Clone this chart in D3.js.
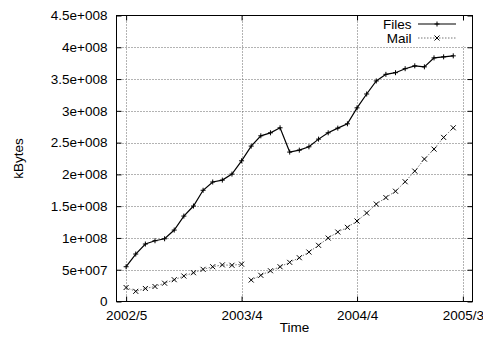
<!DOCTYPE html>
<html>
<head>
<meta charset="utf-8">
<script src="https://cdn.jsdelivr.net/npm/d3@7"></script>
<style>
  html, body { margin: 0; padding: 0; background: #fff; }
  svg { display: block; }
  text { font-family: "Liberation Sans", Arial, Helvetica, sans-serif; font-size: 13.5px; fill: #000; }
</style>
</head>
<body>
<svg id="chart" width="483" height="344"></svg>
<script>
// ---- data (kBytes), one sample per index ----
const files = [5.47e7, 7.47e7, 9.04e7, 9.56e7, 9.87e7, 1.124e8, 1.344e8, 1.502e8, 1.75e8, 1.88e8,
  1.91e8, 2.005e8, 2.214e8, 2.445e8, 2.607e8, 2.654e8, 2.733e8, 2.351e8, 2.382e8, 2.434e8,
  2.555e8, 2.654e8, 2.728e8, 2.796e8, 3.047e8, 3.265e8, 3.47e8, 3.574e8, 3.60e8, 3.663e8,
  3.708e8, 3.692e8, 3.833e8, 3.849e8, 3.865e8];
// Mail: two segments (counter reset after index 12)
const mailPart1Start = 0;
const mailPart1 = [2.2e7, 1.6e7, 2.05e7, 2.36e7, 2.88e7, 3.43e7, 4.01e7, 4.53e7, 5.06e7, 5.47e7,
  5.76e7, 5.7e7, 5.87e7];
const mailPart2Start = 13;
const mailPart2 = [3.38e7, 4.12e7, 4.84e7, 5.47e7, 6.16e7, 6.89e7, 7.78e7, 8.84e7, 9.98e7, 1.093e8,
  1.167e8, 1.266e8, 1.392e8, 1.533e8, 1.635e8, 1.735e8, 1.884e8, 2.052e8, 2.241e8, 2.398e8,
  2.582e8, 2.733e8];
const yTickValues = [0, 5e7, 1e8, 1.5e8, 2e8, 2.5e8, 3e8, 3.5e8, 4e8, 4.5e8];
const yTickLabels = ["0", "5e+007", "1e+008", "1.5e+008", "2e+008", "2.5e+008", "3e+008", "3.5e+008", "4e+008", "4.5e+008"];
const xTickIndex = [0, 12, 24, 35];
const xTickLabels = ["2002/5", "2003/4", "2004/4", "2005/3"];
const seriesNames = ["Files", "Mail"];

// ---- layout ----
const svg = d3.select("#chart");
const L = 116.5, R = 472.5, T = 15.5, B = 301.5;
const x = d3.scaleLinear().domain([-1, 36]).range([L, R]);
const y = d3.scaleLinear().domain([0, 4.5e8]).range([B, T]);
const tickLen = 5;

// grid
const grid = svg.append("g").attr("stroke", "#666").attr("stroke-width", 1).attr("stroke-dasharray", "1,2");
yTickValues.slice(1, -1).forEach(v => {
  const yy = Math.round(y(v)) + 0.5;
  grid.append("line").attr("x1", L).attr("x2", R).attr("y1", yy).attr("y2", yy);
});
xTickIndex.forEach(i => {
  const xx = Math.round(x(i)) + 0.5;
  grid.append("line").attr("x1", xx).attr("x2", xx).attr("y1", T).attr("y2", B);
});

// axes via d3 axis (inward ticks), plus mirrored ticks
const yAxisL = d3.axisLeft(y).tickValues(yTickValues).tickFormat((d, i) => yTickLabels[i]).tickSizeInner(-tickLen).tickSizeOuter(0).tickPadding(9);
const gL = svg.append("g").attr("transform", `translate(${L},0)`).call(yAxisL);
gL.select(".domain").remove();
gL.selectAll("text").attr("font-size", "13.5px").attr("font-family", "Liberation Sans, Arial, sans-serif").attr("fill", "#000");
gL.selectAll("line").attr("stroke", "#000");

const yAxisR = d3.axisRight(y).tickValues(yTickValues).tickFormat("").tickSizeInner(-tickLen).tickSizeOuter(0);
const gR = svg.append("g").attr("transform", `translate(${R},0)`).call(yAxisR);
gR.select(".domain").remove();
gR.selectAll("line").attr("stroke", "#000");

const xAxisB = d3.axisBottom(x).tickValues(xTickIndex).tickFormat((d, i) => xTickLabels[i]).tickSizeInner(-tickLen).tickSizeOuter(0).tickPadding(9);
const gB = svg.append("g").attr("transform", `translate(0,${B})`).call(xAxisB);
gB.select(".domain").remove();
gB.selectAll("text").attr("font-size", "13.5px").attr("font-family", "Liberation Sans, Arial, sans-serif").attr("fill", "#000");
gB.selectAll("line").attr("stroke", "#000");

const xAxisT = d3.axisTop(x).tickValues(xTickIndex).tickFormat("").tickSizeInner(-tickLen).tickSizeOuter(0);
const gT = svg.append("g").attr("transform", `translate(0,${T})`).call(xAxisT);
gT.select(".domain").remove();
gT.selectAll("line").attr("stroke", "#000");

// legend background (grid hidden behind key)
svg.append("rect").attr("x", 366).attr("y", T + 0.5).attr("width", 101).attr("height", 30).attr("fill", "#fff");
// redraw top tick at 2005/3
svg.append("line").attr("x1", Math.round(x(35)) + 0.5).attr("x2", Math.round(x(35)) + 0.5)
  .attr("y1", T).attr("y2", T + tickLen).attr("stroke", "#000");

// border
svg.append("rect").attr("x", L).attr("y", T).attr("width", R - L).attr("height", B - T)
  .attr("fill", "none").attr("stroke", "#000").attr("stroke-width", 1);

// titles
svg.append("text").attr("x", (L + R) / 2).attr("y", 332).attr("text-anchor", "middle").text("Time");
svg.append("text").attr("transform", `translate(23,${(T + B) / 2}) rotate(-90)`).attr("text-anchor", "middle").text("kBytes");

// series
const line = d3.line().x(d => x(d[0])).y(d => y(d[1]));
const filesPts = files.map((v, i) => [i, v]);
const mail1Pts = mailPart1.map((v, i) => [mailPart1Start + i, v]);
const mail2Pts = mailPart2.map((v, i) => [mailPart2Start + i, v]);

function plus(g, cx, cy, s) {
  g.append("path").attr("d", `M${cx - s},${cy}H${cx + s}M${cx},${cy - s}V${cy + s}`)
    .attr("stroke", "#000").attr("stroke-width", 1).attr("fill", "none");
}
function cross(g, cx, cy, s) {
  g.append("path").attr("d", `M${cx - s},${cy - s}L${cx + s},${cy + s}M${cx - s},${cy + s}L${cx + s},${cy - s}`)
    .attr("stroke", "#000").attr("stroke-width", 1).attr("fill", "none");
}

const mailStyle = sel => sel.attr("fill", "none").attr("stroke", "#777").attr("stroke-width", 1).attr("stroke-dasharray", "1.5,1.5");
[mail1Pts, mail2Pts].forEach(pts => svg.append("path").datum(pts).attr("d", line).call(mailStyle));
const gm = svg.append("g");
mail1Pts.concat(mail2Pts).forEach(d => cross(gm, x(d[0]), y(d[1]), 2.5));

svg.append("path").datum(filesPts).attr("d", line).attr("fill", "none").attr("stroke", "#000").attr("stroke-width", 1.2);
const gf = svg.append("g");
filesPts.forEach(d => plus(gf, x(d[0]), y(d[1]), 2.5));

// legend
const lg = svg.append("g");
const legY = [24, 38];
lg.append("text").attr("x", 411.5).attr("y", legY[0]).attr("dy", "0.36em").attr("text-anchor", "end").text(seriesNames[0]);
lg.append("text").attr("x", 411.5).attr("y", legY[1]).attr("dy", "0.36em").attr("text-anchor", "end").text(seriesNames[1]);
lg.append("line").attr("x1", 418).attr("x2", 456).attr("y1", legY[0]).attr("y2", legY[0]).attr("stroke", "#000").attr("stroke-width", 1.2);
plus(lg, 437, legY[0], 2.5);
lg.append("line").attr("x1", 418).attr("x2", 456).attr("y1", legY[1]).attr("y2", legY[1]).call(mailStyle);
cross(lg, 437, legY[1], 2.5);
</script>
</body>
</html>
